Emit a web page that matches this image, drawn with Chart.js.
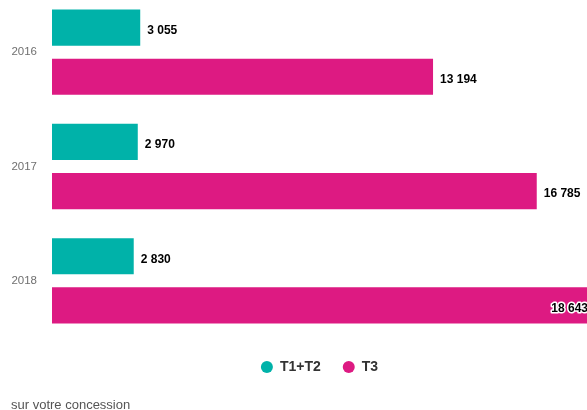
<!DOCTYPE html>
<html>
<head>
<meta charset="utf-8">
<script src="https://cdn.jsdelivr.net/npm/chart.js@4/dist/chart.umd.min.js"></script>
<style>
    html, body { margin: 0; padding: 0; background: #fff; overflow: hidden; }
    #wrap { position: absolute; left: 0; top: -5px; width: 587px; height: 415px; }
    #note {
        position: absolute; left: 11px; top: 397px;
        font: 13px "Liberation Sans", Arial, sans-serif; color: #555;
    }
</style>
</head>
<body>
<div id="wrap"><canvas id="chart"></canvas></div>
<div id="note">sur votre concession</div>
<script>
const years = ['2016', '2017', '2018'];
const t1t2 = [3055, 2970, 2830];
const t3 = [13194, 16785, 18643];
const seriesNames = ['T1+T2', 'T3'];
const seriesColors = ['#00b2a9', '#dd1a82'];

// format 13194 -> "13 194"
function fmt(v) {
    return String(v).replace(/\B(?=(\d{3})+(?!\d))/g, ' ');
}

// value labels at the end of each bar
const barLabels = {
    id: 'barLabels',
    afterDatasetsDraw(chart) {
        const ctx = chart.ctx;
        const area = chart.chartArea;
        ctx.save();
        ctx.font = 'bold 12px "Liberation Sans", Arial, sans-serif';
        ctx.textBaseline = 'middle';
        ctx.textAlign = 'left';
        chart.data.datasets.forEach((ds, i) => {
            chart.getDatasetMeta(i).data.forEach((bar, j) => {
                const text = fmt(ds.data[j]);
                const w = ctx.measureText(text).width;
                let x = bar.x + 7;
                const y = bar.y + 3;
                if (x + w > area.right) {
                    // doesn't fit: pull it inside the bar with a white halo
                    x = area.right - w + 1;
                    ctx.lineWidth = 3;
                    ctx.strokeStyle = '#fff';
                    ctx.lineJoin = 'round';
                    ctx.strokeText(text, x, y);
                }
                ctx.fillStyle = '#000';
                ctx.fillText(text, x, y);
            });
        });
        ctx.restore();
    }
};

new Chart(document.getElementById('chart'), {
    type: 'bar',
    data: {
        labels: years,
        datasets: [
            { label: seriesNames[0], data: t1t2, backgroundColor: seriesColors[0] },
            { label: seriesNames[1], data: t3, backgroundColor: seriesColors[1] }
        ]
    },
    options: {
        indexAxis: 'y',
        responsive: true,
        maintainAspectRatio: false,
        animation: false,
        categoryPercentage: 0.86,
        barPercentage: 0.735,
        layout: { autoPadding: false, padding: { left: 0, right: 0, top: 0, bottom: 26 } },
        scales: {
            x: { display: false, min: 0, max: 18525 },
            y: {
                grid: { display: false, drawTicks: false },
                border: { display: false },
                ticks: {
                    color: '#707070',
                    padding: 15,
                    font: { family: '"Liberation Sans", Arial, sans-serif', size: 11.5 }
                },
                afterFit(scale) {
                    scale.width = 52;
                    scale.paddingTop = 0;
                    scale.paddingBottom = 0;
                }
            }
        },
        plugins: {
            legend: {
                position: 'bottom',
                fullSize: false,
                labels: {
                    usePointStyle: true,
                    pointStyle: 'circle',
                    boxWidth: 12,
                    boxHeight: 8.5,
                    padding: 22,
                    color: '#333',
                    font: { family: '"Liberation Sans", Arial, sans-serif', size: 14, weight: 'bold' }
                }
            },
            title: { display: false },
            tooltip: { enabled: false }
        }
    },
    plugins: [barLabels]
});
</script>
</body>
</html>
